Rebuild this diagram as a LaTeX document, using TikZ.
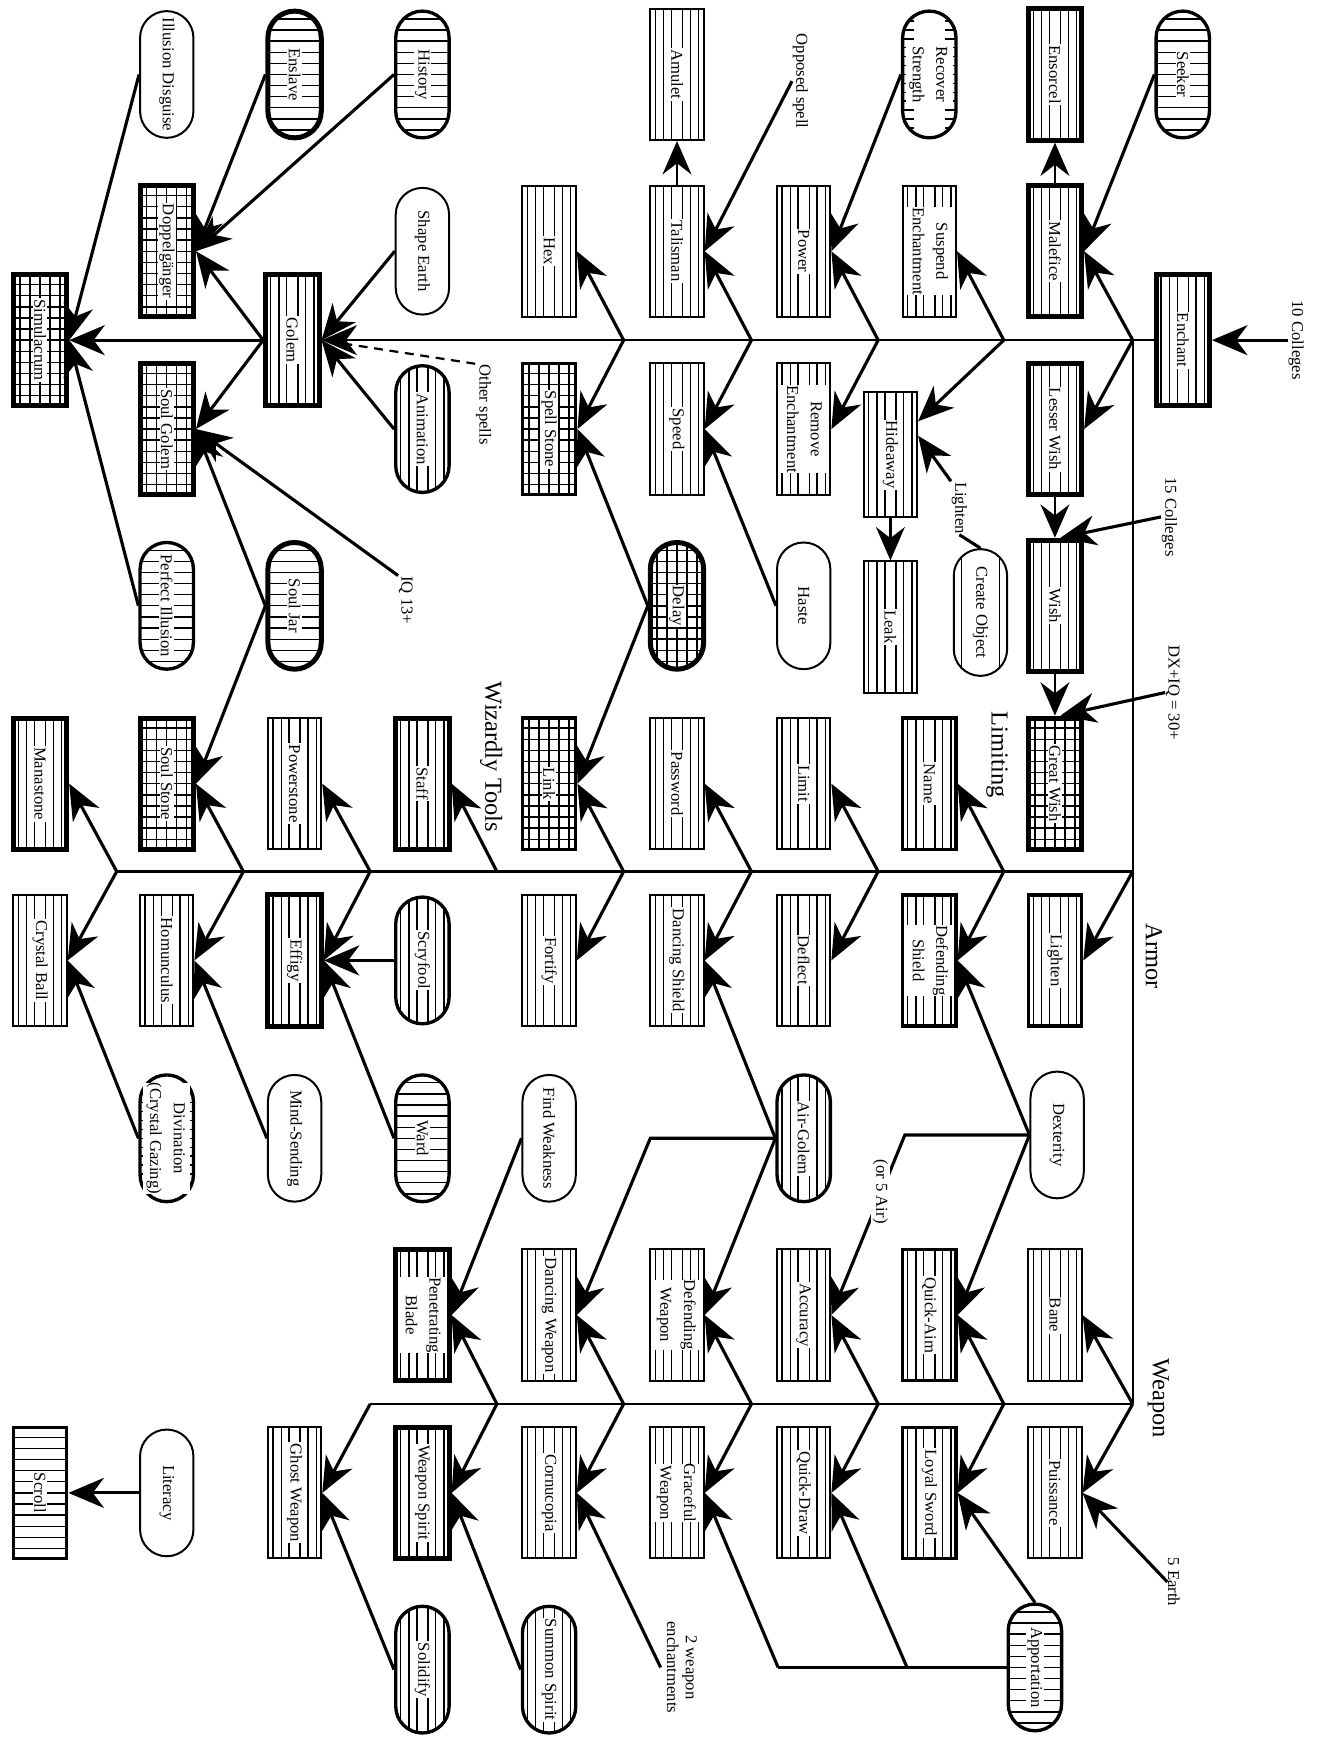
\documentclass[tikz,border=0pt]{standalone}
\usepackage{fontspec}
\setmainfont{Liberation Serif}
\usepackage{graphicx}
\usetikzlibrary{arrows.meta}
\newcommand{\nodefont}{\fontsize{15}{17}\selectfont}
\newcommand{\bigfont}{\fontsize{22}{26}\selectfont}
\newcommand{\rtxt}[1]{{\setlength{\fboxsep}{1.2pt}\colorbox{white}{\rotatebox{-90}{#1}}}}
\newcommand{\rtwo}[2]{{\setlength{\fboxsep}{0pt}\colorbox{white}{\rotatebox{-90}{\renewcommand{\arraystretch}{1.25}\begin{tabular}{@{}c@{}}#1\\#2\end{tabular}}}}}
\newcommand{\rlab}[1]{\rotatebox{-90}{#1}}
\begin{document}
\begin{tikzpicture}[x=1pt,y=-1pt,
  boxnode/.style={draw, fill=white, inner sep=0pt, minimum width=48pt, minimum height=118pt, line width=1.8pt, font=\nodefont},
  ovalnode/.style={boxnode, rounded corners=24pt, minimum height=114pt},
  heavyline/.style={line width=4.5pt},
  midline/.style={line width=3pt},
  vstripe/.style={path picture={
    \foreach \i in {-19.5pt,-12pt,-5pt,5pt,12pt,19.5pt}
      \draw[line width=1.2pt] ([xshift=\i]path picture bounding box.north) -- ([xshift=\i]path picture bounding box.south);}},
  hstripe/.style={path picture={
    \foreach \j in {-50pt,-40pt,-30pt,-20pt,-10pt,0pt,10pt,20pt,30pt,40pt,50pt}
      \draw[line width=1.2pt] ([yshift=\j]path picture bounding box.west) -- ([yshift=\j]path picture bounding box.east);}},
  gridfill/.style={path picture={
    \foreach \i in {-18pt,-9pt,0pt,9pt,18pt}
      \draw[line width=1.3pt] ([xshift=\i]path picture bounding box.north) -- ([xshift=\i]path picture bounding box.south);
    \foreach \j in {-50pt,-40pt,-30pt,-20pt,-10pt,0pt,10pt,20pt,30pt,40pt,50pt}
      \draw[line width=1.3pt] ([yshift=\j]path picture bounding box.west) -- ([yshift=\j]path picture bounding box.east);}},
  tickfill/.style={path picture={
    \foreach \j in {-48pt,-40pt,-32pt,-24pt,-16pt,-8pt,0pt,8pt,16pt,24pt,32pt,40pt,48pt}{
      \draw[line width=1.2pt] ([yshift=\j]path picture bounding box.west) -- ++(10pt,0);
      \draw[line width=1.2pt] ([yshift=\j]path picture bounding box.east) -- ++(-10pt,0);}}},
  edgelines/.style={path picture={
    \foreach \i in {-17pt,17pt}
      \draw[line width=1.2pt] ([xshift=\i]path picture bounding box.north) -- ([xshift=\i]path picture bounding box.south);}},
  lab/.style={inner sep=0.5pt, font=\nodefont},
  seclab/.style={inner sep=0.5pt, font=\bigfont},
  arr/.style={line width=2.8pt, -{Stealth[length=32pt,width=27pt,inset=10pt]}},
  varr/.style={line width=2.2pt, -{Stealth[length=30pt,width=26pt,inset=10pt]}},
  sparr/.style={line width=1.9pt, -{Stealth[length=32pt,width=27pt,inset=10pt]}},
  sp/.style={line width=1.9pt},
  ln/.style={line width=2.8pt},
  dashln/.style={line width=2pt, dash pattern=on 8pt off 6pt}
]
\useasboundingbox (0,0) rectangle (1184,1568);

% ---------- row 1
\node[ovalnode,midline,hstripe] (Seeker) at (1064,67) {\rtxt{Seeker}};
\node[boxnode,heavyline,vstripe] (Ensorcel) at (949,67) {\rtxt{Ensorcel}};
\node[ovalnode,midline,tickfill] (RecStr) at (836,67) {\rtwo{Recover}{Strength}};
\node[boxnode,vstripe] (Amulet) at (609,67) {\rtxt{Amulet}};
\node[ovalnode,midline,hstripe] (History) at (380,67) {\rtxt{History}};
\node[ovalnode,heavyline,hstripe] (Enslave) at (265,67) {\rtxt{Enslave}};
\node[ovalnode] (IllDis) at (150,67) {\rtxt{Illusion Disguise}};

% ---------- row 2
\node[boxnode,heavyline,vstripe] (Malefice) at (949,226) {\rtxt{Malefice}};
\node[boxnode,vstripe] (Suspend) at (836,226) {\rtwo{Suspend}{Enchantment}};
\node[boxnode,vstripe] (Power) at (723,226) {\rtxt{Power}};
\node[boxnode,vstripe] (Talisman) at (609,226) {\rtxt{Talisman}};
\node[boxnode,vstripe] (Hex) at (494,226) {\rtxt{Hex}};
\node[ovalnode] (ShapeEarth) at (380,226) {\rtxt{Shape Earth}};
\node[boxnode,heavyline,gridfill] (Doppel) at (150,226) {\rtxt{Doppelgänger}};

% ---------- spine row
\node[boxnode,heavyline,vstripe] (Enchant) at (1064,306) {\rtxt{Enchant}};
\node[boxnode,heavyline,vstripe] (Golem) at (263,306) {\rtxt{Golem}};
\node[boxnode,heavyline,gridfill] (Simulacrum) at (36,306) {\rtxt{Simulacrum}};

% ---------- row 3
\node[boxnode,heavyline,vstripe] (LesserWish) at (949,386) {\rtxt{Lesser Wish}};
\node[boxnode,vstripe,minimum height=112pt] (Hideaway) at (801,409) {\rtxt{Hideaway}};
\node[boxnode,vstripe] (RemEnch) at (723,386) {\rtwo{Remove}{Enchantment}};
\node[boxnode,vstripe] (Speed) at (609,386) {\rtxt{Speed}};
\node[boxnode,midline,gridfill] (SpellStone) at (494,386) {\rtxt{Spell Stone}};
\node[ovalnode,midline,vstripe] (Animation) at (380,386) {\rtxt{Animation}};
\node[boxnode,heavyline,gridfill] (SoulGolem) at (150,386) {\rtxt{Soul Golem}};

% ---------- row 4
\node[boxnode,heavyline,vstripe] (Wish) at (949,545) {\rtxt{Wish}};
\node[ovalnode,edgelines] (CreateObj) at (882,551) {\rtxt{Create Object}};
\node[boxnode,vstripe] (Leak) at (801,564) {\rtxt{Leak}};
\node[ovalnode] (Haste) at (723,545) {\rtxt{Haste}};
\node[ovalnode,heavyline,gridfill] (Delay) at (609,545) {\rtxt{Delay}};
\node[ovalnode,heavyline,hstripe] (SoulJar) at (265,545) {\rtxt{Soul Jar}};
\node[ovalnode,midline,hstripe] (PerfIll) at (150,545) {\rtxt{Perfect Illusion}};

% ---------- row 5
\node[boxnode,heavyline,gridfill] (GreatWish) at (949,705) {\rtxt{Great Wish}};
\node[boxnode,midline,vstripe] (Name) at (836,705) {\rtxt{Name}};
\node[boxnode,vstripe] (Limit) at (723,705) {\rtxt{Limit}};
\node[boxnode,vstripe] (Password) at (609,705) {\rtxt{Password}};
\node[boxnode,midline,gridfill] (Link) at (494,705) {\rtxt{Link}};
\node[boxnode,heavyline,vstripe] (Staff) at (380,705) {\rtxt{Staff}};
\node[boxnode,vstripe] (Powerstone) at (265,705) {\rtxt{Powerstone}};
\node[boxnode,heavyline,gridfill] (SoulStone) at (150,705) {\rtxt{Soul Stone}};
\node[boxnode,heavyline,vstripe] (Manastone) at (36,705) {\rtxt{Manastone}};

% ---------- row 6
\node[boxnode,midline,vstripe] (Lighten) at (949,864) {\rtxt{Lighten}};
\node[boxnode,midline,vstripe] (DefShield) at (836,864) {\rtwo{Defending}{Shield}};
\node[boxnode,vstripe] (Deflect) at (723,864) {\rtxt{Deflect}};
\node[boxnode,vstripe] (DancShield) at (609,864) {\rtxt{Dancing Shield}};
\node[boxnode,vstripe] (Fortify) at (494,864) {\rtxt{Fortify}};
\node[ovalnode,midline,vstripe] (Scryfool) at (380,864) {\rtxt{Scryfool}};
\node[boxnode,heavyline,vstripe] (Effigy) at (265,864) {\rtxt{Effigy}};
\node[boxnode,vstripe] (Homunculus) at (150,864) {\rtxt{Homunculus}};
\node[boxnode,vstripe] (CrystalBall) at (36,864) {\rtxt{Crystal Ball}};

% ---------- row 7
\node[ovalnode] (Dexterity) at (951,1021) {\rtxt{Dexterity}};
\node[ovalnode,midline,vstripe] (AirGolem) at (723,1024) {\rtxt{Air-Golem}};
\node[ovalnode] (FindWeak) at (494,1024) {\rtxt{Find Weakness}};
\node[ovalnode,midline,hstripe] (Ward) at (380,1024) {\rtxt{Ward}};
\node[ovalnode] (MindSend) at (265,1024) {\rtxt{Mind-Sending}};
\node[ovalnode,midline,tickfill] (Divination) at (150,1024) {\rtwo{Divination}{(Crystal Gazing)}};

% ---------- row 8
\node[boxnode,vstripe] (Bane) at (949,1183) {\rtxt{Bane}};
\node[boxnode,midline,vstripe] (QuickAim) at (836,1183) {\rtxt{Quick-Aim}};
\node[boxnode,vstripe] (Accuracy) at (723,1183) {\rtxt{Accuracy}};
\node[boxnode,vstripe] (DefWeapon) at (609,1183) {\rtwo{Defending}{Weapon}};
\node[boxnode,vstripe] (DancWeapon) at (494,1183) {\rtxt{Dancing Weapon}};
\node[boxnode,heavyline,vstripe] (PenBlade) at (380,1183) {\rtwo{Penetrating}{Blade}};

% ---------- row 9
\node[boxnode,vstripe] (Puissance) at (949,1343) {\rtxt{Puissance}};
\node[boxnode,midline,vstripe] (LoyalSword) at (836,1343) {\rtxt{Loyal Sword}};
\node[boxnode,vstripe] (QuickDraw) at (723,1343) {\rtxt{Quick-Draw}};
\node[boxnode,vstripe] (GraceWeapon) at (609,1343) {\rtwo{Graceful}{Weapon}};
\node[boxnode,vstripe] (Cornucopia) at (494,1343) {\rtxt{Cornucopia}};
\node[boxnode,heavyline,vstripe] (WeaponSpirit) at (380,1343) {\rtxt{Weapon Spirit}};
\node[boxnode,vstripe] (GhostWeapon) at (265,1343) {\rtxt{Ghost Weapon}};
\node[ovalnode] (Literacy) at (150,1343) {\rtxt{Literacy}};
\node[boxnode,midline,hstripe] (Scroll) at (36,1343) {\rtxt{Scroll}};

% ---------- row 10
\node[ovalnode,midline,hstripe] (Apportation) at (931,1500) {\rtxt{Apportation}};
\node[ovalnode,midline,vstripe] (SummonSpirit) at (494,1502) {\rtxt{Summon Spirit}};
\node[ovalnode,midline,vstripe] (Solidify) at (380,1502) {\rtxt{Solidify}};

% ---------- labels
\node[lab] (l10) at (1166,306) {\rlab{10 Colleges}};
\node[lab] (l15) at (1052,465) {\rlab{15 Colleges}};
\node[lab] (lDX) at (1055,623) {\rlab{DX+IQ = 30+}};
\node[lab] (lOpp) at (720,73) {\rlab{Opposed spell}};
\node[lab] (lOther) at (435,364) {\rlab{Other spells}};
\node[lab] (lIQ) at (365,540) {\rlab{IQ 13+}};
\node[lab] (lLight) at (863,457) {\rlab{Lighten}};
\node[lab] (l5E) at (1056,1423) {\rlab{5 Earth}};
\node[lab] (l2W) at (612,1500) {\rlab{\begin{tabular}{@{}c@{}}2 weapon\\enchantments\end{tabular}}};
\node[seclab] (sLim) at (897,679) {\rlab{Limiting}};
\node[seclab] (sArm) at (1038,860) {\rlab{Armor}};
\node[seclab] (sWea) at (1042,1258) {\rlab{Weapon}};
\node[seclab] (sWiz) at (442,681) {\rlab{Wizardly Tools}};

% ---------- junction coordinates
\coordinate (s1A) at (1019,306); \coordinate (s1B) at (903,306);
\coordinate (s1C) at (790,306);  \coordinate (s1D) at (676,306);
\coordinate (s1E) at (561,306);
\coordinate (s2A) at (1019,784); \coordinate (s2B) at (903,784);
\coordinate (s2C) at (790,784);  \coordinate (s2D) at (676,784);
\coordinate (s2E) at (561,784);  \coordinate (s2F) at (447,784);
\coordinate (s2G) at (333,784);  \coordinate (s2H) at (219,784);
\coordinate (s2I) at (105,784);
\coordinate (s3A) at (1019,1263); \coordinate (s3B) at (903,1263);
\coordinate (s3C) at (790,1263);  \coordinate (s3D) at (676,1263);
\coordinate (s3E) at (561,1263);  \coordinate (s3F) at (447,1263);
\coordinate (s3G) at (333,1263);
\coordinate (dexbend) at (814,1021);
\coordinate (agbend) at (585,1024);
\coordinate (apjunc) at (816,1500);
\coordinate (apbend) at (700,1500);

% ---------- spines / frame
\draw[arr] (l10.west) -- (Enchant.east);
\draw[sparr] (Enchant.west) -- (Golem.east);
\draw[sp] (s1A) -- (s3A);
\draw[sp] (s2A) -- (s2I);
\draw[sp] (s3A) -- (s3G);

% ---------- branches, spine 1
\draw[arr] (s1A) -- (Malefice.east);
\draw[arr] (s1A) -- (LesserWish.east);
\draw[arr] (s1B) -- (Suspend.east);
\draw[arr] (s1B) -- ([yshift=30pt]Hideaway.east);
\draw[arr] (s1C) -- (Power.east);
\draw[arr] (s1C) -- (RemEnch.east);
\draw[arr] (s1D) -- (Talisman.east);
\draw[arr] (s1D) -- (Speed.east);
\draw[arr] (s1E) -- (Hex.east);
\draw[arr] (s1E) -- (SpellStone.east);

% ---------- branches, spine 2
\draw[arr] (s2A) -- (Lighten.east);
\draw[arr] (s2B) -- (Name.east);
\draw[arr] (s2B) -- (DefShield.east);
\draw[arr] (s2C) -- (Limit.east);
\draw[arr] (s2C) -- (Deflect.east);
\draw[arr] (s2D) -- (Password.east);
\draw[arr] (s2D) -- (DancShield.east);
\draw[arr] (s2E) -- (Link.east);
\draw[arr] (s2E) -- (Fortify.east);
\draw[arr] (s2F) -- (Staff.east);
\draw[arr] (s2G) -- (Powerstone.east);
\draw[arr] (s2G) -- (Effigy.east);
\draw[arr] (s2H) -- (SoulStone.east);
\draw[arr] (s2H) -- (Homunculus.east);
\draw[arr] (s2I) -- (Manastone.east);
\draw[arr] (s2I) -- (CrystalBall.east);

% ---------- branches, spine 3
\draw[arr] (s3A) -- (Bane.east);
\draw[arr] (s3A) -- (Puissance.east);
\draw[arr] (s3B) -- (QuickAim.east);
\draw[arr] (s3B) -- (LoyalSword.east);
\draw[arr] (s3C) -- (Accuracy.east);
\draw[arr] (s3C) -- (QuickDraw.east);
\draw[arr] (s3D) -- (DefWeapon.east);
\draw[arr] (s3D) -- (GraceWeapon.east);
\draw[arr] (s3E) -- (DancWeapon.east);
\draw[arr] (s3E) -- (Cornucopia.east);
\draw[arr] (s3F) -- (PenBlade.east);
\draw[arr] (s3F) -- (WeaponSpirit.east);
\draw[arr] (s3G) -- (GhostWeapon.east);

% ---------- vertical arrows
\draw[varr] (Malefice.north) -- (Ensorcel.south);
\draw[varr] (Talisman.north) -- (Amulet.south);
\draw[varr] (LesserWish.south) -- (Wish.north);
\draw[varr] (Wish.south) -- (GreatWish.north);
\draw[varr] (Hideaway.south) -- (Leak.north);

% ---------- other prerequisites
\draw[arr] (Seeker.west) -- (Malefice.east);
\draw[arr] (RecStr.west) -- (Power.east);
\draw[arr] (lOpp.west) -- (Talisman.east);
\draw[arr] (Haste.west) -- (Speed.east);
\draw[arr] (Delay.west) -- (SpellStone.east);
\draw[arr] (Delay.west) -- (Link.east);
\draw[ln] (CreateObj.north) -- (lLight.south);
\draw[arr] (lLight.north west) -- ([yshift=17pt]Hideaway.east);
\draw[arr] (l15.west) -- ([xshift=5pt]Wish.north);
\draw[arr] (lDX.west) -- ([xshift=5pt]GreatWish.north);
\draw[arr] (History.west) -- (Doppel.east);
\draw[arr] (Enslave.west) -- (Doppel.east);
\draw[arr] (IllDis.west) -- (Simulacrum.east);
\draw[arr] (ShapeEarth.west) -- (Golem.east);
\draw[arr] (Animation.west) -- (Golem.east);
\draw[dashln] (lOther.north west) -- (Golem.east);
\draw[arr] (Golem.west) -- (Doppel.east);
\draw[arr] (Golem.west) -- (SoulGolem.east);
\draw[arr] (Golem.west) -- (Simulacrum.east);
\draw[arr] (PerfIll.west) -- (Simulacrum.east);
\draw[arr] (SoulJar.west) -- (SoulGolem.east);
\draw[arr] (lIQ.north west) -- (SoulGolem.east);
\draw[arr] (SoulJar.west) -- (SoulStone.east);
\draw[arr] (Scryfool.west) -- (Effigy.east);
\draw[arr] (Ward.west) -- (Effigy.east);
\draw[arr] (MindSend.west) -- (Homunculus.east);
\draw[arr] (Divination.west) -- (CrystalBall.east);
\draw[arr] (Dexterity.west) -- (DefShield.east);
\draw[arr] (Dexterity.west) -- (QuickAim.east);
\draw[arr] (Dexterity.west) -- (dexbend) -- (Accuracy.east);
\draw[arr] (AirGolem.west) -- (DancShield.east);
\draw[arr] (AirGolem.west) -- (DefWeapon.east);
\draw[arr] (AirGolem.west) -- (agbend) -- (DancWeapon.east);
\draw[arr] (FindWeak.west) -- (PenBlade.east);
\draw[arr] (Apportation.north) -- (LoyalSword.east);
\draw[ln] (Apportation.west) -- (apbend);
\draw[arr] (apjunc) -- (QuickDraw.east);
\draw[arr] (apbend) -- (GraceWeapon.east);
\draw[arr] (l5E.west) -- (Puissance.east);
\draw[arr] (l2W.west) -- (Cornucopia.east);
\draw[arr] (SummonSpirit.west) -- (WeaponSpirit.east);
\draw[arr] (Solidify.west) -- (GhostWeapon.east);
\draw[arr] (Literacy.west) -- (Scroll.east);

% label that sits on the Dexterity-Accuracy line
\node[lab, fill=white, inner sep=2pt] (lAir) at (792,1072) {\rlab{(or 5 Air)}};
\end{tikzpicture}
\end{document}
